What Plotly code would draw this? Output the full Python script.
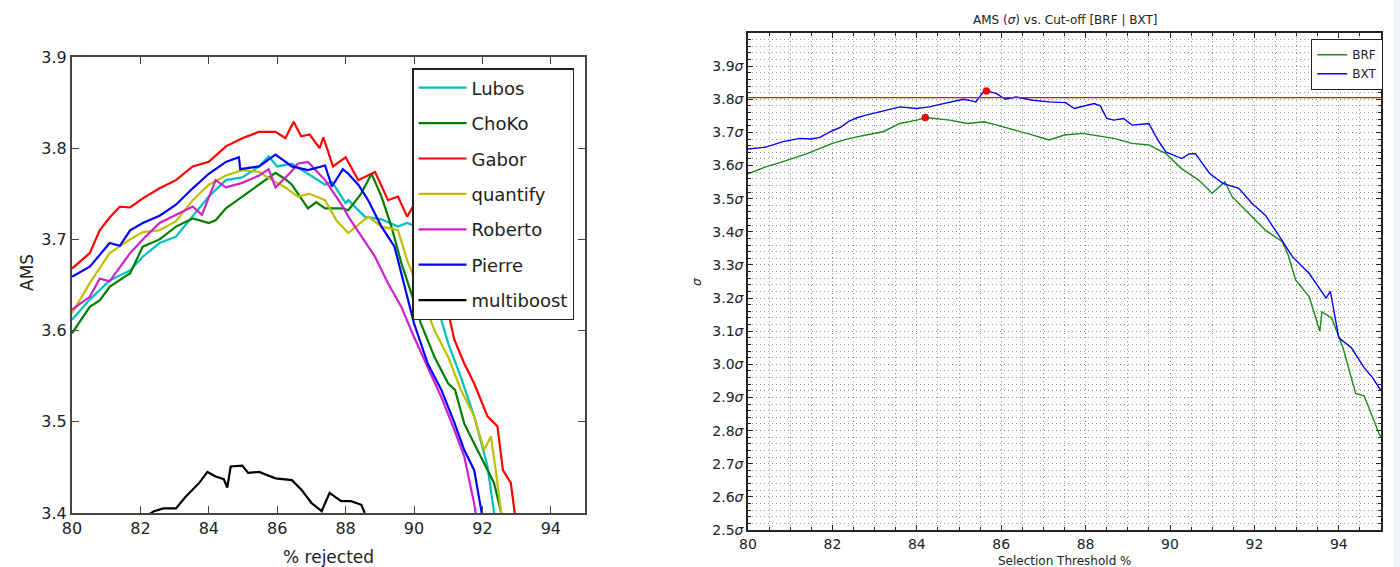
import plotly.graph_objects as go

W, H = 1400, 567

# ---------------- Left chart data: AMS vs % rejected ----------------
lubos_x = [80.0, 80.52, 81.1, 81.7, 82.07, 82.56, 83.04, 83.53, 84.0, 84.5, 84.98, 85.47, 85.75, 86.0, 86.43, 86.9, 87.4, 87.6, 88.0, 88.08, 88.56, 89.05, 89.53, 89.8, 90.0, 90.5, 91.0, 91.37, 91.76, 92.15, 92.34, 92.4]
lubos_y = [3.612, 3.634, 3.655, 3.666, 3.681, 3.696, 3.703, 3.725, 3.747, 3.765, 3.768, 3.780, 3.791, 3.780, 3.783, 3.772, 3.760, 3.763, 3.740, 3.743, 3.725, 3.722, 3.714, 3.718, 3.715, 3.650, 3.586, 3.549, 3.506, 3.451, 3.400, 3.385]

choko_x = [80.0, 80.52, 80.81, 81.1, 81.7, 82.07, 82.56, 83.04, 83.53, 84.0, 84.2, 84.5, 84.98, 85.47, 85.95, 86.24, 86.43, 86.9, 87.14, 87.4, 87.92, 88.08, 88.45, 88.76, 89.05, 89.34, 89.63, 89.92, 90.2, 90.6, 91.0, 91.2, 91.47, 91.95, 92.34, 92.55, 92.6]
choko_y = [3.597, 3.626, 3.633, 3.648, 3.663, 3.692, 3.700, 3.714, 3.723, 3.718, 3.721, 3.734, 3.747, 3.760, 3.773, 3.766, 3.760, 3.734, 3.741, 3.734, 3.734, 3.732, 3.750, 3.772, 3.747, 3.714, 3.674, 3.641, 3.608, 3.571, 3.542, 3.535, 3.498, 3.462, 3.433, 3.400, 3.385]

gabor_x = [80.0, 80.52, 80.81, 81.1, 81.4, 81.7, 82.07, 82.56, 83.04, 83.53, 84.0, 84.5, 84.98, 85.47, 85.95, 86.24, 86.48, 86.7, 86.95, 87.24, 87.35, 87.63, 88.0, 88.37, 88.86, 89.24, 89.53, 89.8, 90.0, 90.5, 91.0, 91.18, 91.47, 91.76, 92.15, 92.44, 92.6, 92.83, 92.93, 93.0]
gabor_y = [3.668, 3.685, 3.710, 3.724, 3.736, 3.735, 3.745, 3.756, 3.765, 3.780, 3.785, 3.802, 3.811, 3.818, 3.818, 3.811, 3.829, 3.813, 3.815, 3.800, 3.812, 3.780, 3.790, 3.765, 3.774, 3.743, 3.747, 3.725, 3.738, 3.680, 3.620, 3.590, 3.564, 3.542, 3.506, 3.495, 3.447, 3.433, 3.403, 3.385]

quantify_x = [80.0, 80.52, 81.1, 81.7, 82.07, 82.56, 83.04, 83.53, 84.0, 84.5, 84.98, 85.47, 85.85, 86.24, 86.6, 86.95, 87.4, 87.73, 88.08, 88.66, 89.05, 89.53, 89.8, 90.2, 90.6, 91.0, 91.37, 91.76, 92.05, 92.25, 92.4, 92.55, 92.6]
quantify_y = [3.619, 3.652, 3.685, 3.700, 3.708, 3.710, 3.720, 3.743, 3.760, 3.770, 3.776, 3.774, 3.765, 3.757, 3.747, 3.750, 3.743, 3.721, 3.707, 3.725, 3.714, 3.710, 3.677, 3.640, 3.600, 3.571, 3.535, 3.506, 3.469, 3.484, 3.444, 3.400, 3.385]

roberto_x = [80.0, 80.52, 80.81, 81.1, 81.7, 82.07, 82.56, 83.04, 83.53, 83.8, 84.0, 84.2, 84.5, 84.98, 85.47, 85.75, 85.95, 86.43, 86.6, 86.9, 87.4, 87.92, 88.08, 88.46, 88.86, 89.24, 89.63, 90.0, 90.4, 90.8, 91.18, 91.47, 91.76, 91.85]
roberto_y = [3.623, 3.637, 3.657, 3.654, 3.685, 3.700, 3.718, 3.727, 3.736, 3.727, 3.747, 3.765, 3.757, 3.762, 3.770, 3.777, 3.757, 3.775, 3.783, 3.785, 3.765, 3.736, 3.725, 3.703, 3.681, 3.652, 3.626, 3.593, 3.560, 3.527, 3.491, 3.462, 3.410, 3.390]

pierre_x = [80.0, 80.52, 81.1, 81.4, 81.7, 82.07, 82.56, 82.75, 83.04, 83.53, 84.0, 84.5, 84.88, 84.92, 85.47, 85.95, 86.43, 86.9, 87.4, 87.6, 87.92, 88.08, 88.37, 88.66, 89.05, 89.43, 89.8, 90.0, 90.4, 90.8, 91.18, 91.47, 91.76, 91.95, 92.05]
pierre_y = [3.659, 3.670, 3.696, 3.693, 3.710, 3.718, 3.726, 3.731, 3.738, 3.756, 3.772, 3.785, 3.790, 3.777, 3.780, 3.793, 3.780, 3.776, 3.781, 3.758, 3.777, 3.772, 3.760, 3.743, 3.714, 3.692, 3.637, 3.608, 3.564, 3.535, 3.499, 3.469, 3.447, 3.410, 3.385]

multiboost_x = [82.27, 82.4, 82.67, 83.04, 83.33, 83.72, 83.96, 84.2, 84.44, 84.54, 84.64, 84.98, 85.15, 85.47, 85.95, 86.43, 86.72, 87.0, 87.3, 87.53, 87.87, 88.16, 88.46, 88.56]
multiboost_y = [3.399, 3.402, 3.405, 3.405, 3.418, 3.433, 3.445, 3.440, 3.437, 3.428, 3.451, 3.452, 3.444, 3.445, 3.438, 3.436, 3.425, 3.411, 3.402, 3.422, 3.413, 3.413, 3.409, 3.400]

left_series = [
    ("Lubos", lubos_x, lubos_y, "#00bfbf"),
    ("ChoKo", choko_x, choko_y, "#008000"),
    ("Gabor", gabor_x, gabor_y, "#ff0000"),
    ("quantify", quantify_x, quantify_y, "#bfbf00"),
    ("Roberto", roberto_x, roberto_y, "#cc22cc"),
    ("Pierre", pierre_x, pierre_y, "#0000ff"),
    ("multiboost", multiboost_x, multiboost_y, "#000000"),
]
left_xticks = [80, 82, 84, 86, 88, 90, 92, 94]
left_yticks = [3.4, 3.5, 3.6, 3.7, 3.8, 3.9]

# ---------------- Right chart data: AMS (sigma) vs selection threshold ----------------
brf_x = [80.0, 80.4, 80.83, 81.4, 82.0, 82.41, 82.8, 83.2, 83.6, 84.0, 84.2, 84.5, 84.78, 85.2, 85.6, 85.9, 86.35, 86.75, 87.14, 87.5, 87.92, 88.3, 88.67, 89.1, 89.5, 89.9, 90.28, 90.68, 91.0, 91.3, 91.47, 91.87, 92.26, 92.66, 92.8, 92.98, 93.3, 93.55, 93.6, 93.83, 94.1, 94.4, 94.6, 94.95, 95.0]
brf_y = [3.575, 3.595, 3.612, 3.636, 3.667, 3.682, 3.692, 3.702, 3.727, 3.737, 3.745, 3.742, 3.737, 3.727, 3.732, 3.722, 3.707, 3.692, 3.677, 3.692, 3.697, 3.690, 3.682, 3.667, 3.662, 3.636, 3.590, 3.556, 3.516, 3.551, 3.506, 3.455, 3.405, 3.370, 3.330, 3.254, 3.204, 3.100, 3.158, 3.140, 3.050, 2.912, 2.905, 2.792, 2.780]

bxt_x = [80.0, 80.4, 80.83, 81.23, 81.5, 81.7, 82.0, 82.2, 82.41, 82.6, 82.8, 83.2, 83.6, 84.0, 84.3, 84.5, 84.78, 85.1, 85.3, 85.4, 85.57, 85.65, 85.88, 86.1, 86.35, 86.75, 87.14, 87.53, 87.73, 87.92, 88.2, 88.35, 88.5, 88.67, 88.9, 89.1, 89.5, 89.7, 89.9, 90.28, 90.45, 90.6, 90.94, 91.25, 91.63, 91.94, 92.26, 92.6, 92.9, 93.3, 93.7, 93.8, 94.0, 94.3, 94.6, 94.8, 94.95, 95.0]
bxt_y = [3.650, 3.655, 3.672, 3.682, 3.680, 3.685, 3.705, 3.716, 3.735, 3.745, 3.752, 3.765, 3.777, 3.772, 3.777, 3.783, 3.792, 3.800, 3.795, 3.792, 3.822, 3.825, 3.818, 3.800, 3.807, 3.797, 3.792, 3.790, 3.772, 3.778, 3.787, 3.780, 3.742, 3.737, 3.742, 3.722, 3.727, 3.680, 3.641, 3.621, 3.635, 3.636, 3.576, 3.546, 3.531, 3.486, 3.450, 3.385, 3.325, 3.274, 3.200, 3.220, 3.080, 3.050, 2.990, 2.960, 2.932, 2.920]

threshold_sigma = 3.805
best_x = [85.65, 84.2]
best_y = [3.825, 3.745]

right_xticks = [80, 82, 84, 86, 88, 90, 92, 94]
right_yticks = [2.5, 2.6, 2.7, 2.8, 2.9, 3.0, 3.1, 3.2, 3.3, 3.4, 3.5, 3.6, 3.7, 3.8, 3.9]
right_yticktext = [f"{v:.1f}<i>σ</i>" for v in right_yticks]


def px(x):
    return x / W


def py(y):
    return 1 - y / H


FONT = "DejaVu Sans"
fig = go.Figure()

for i, (name, xs, ys, col) in enumerate(left_series):
    fig.add_trace(go.Scatter(
        x=xs, y=ys, mode="lines", name=name,
        line=dict(color=col, width=2.2),
        xaxis="x", yaxis="y", legend="legend", legendgroup=f"g{i}",
    ))

fig.add_trace(go.Scatter(
    x=brf_x, y=brf_y, mode="lines", name="BRF",
    line=dict(color="#1a8a1a", width=1.4),
    xaxis="x2", yaxis="y2", legend="legend2",
))
fig.add_trace(go.Scatter(
    x=bxt_x, y=bxt_y, mode="lines", name="BXT",
    line=dict(color="#0000ff", width=1.4),
    xaxis="x2", yaxis="y2", legend="legend2",
))
fig.add_trace(go.Scatter(
    x=[80, 95], y=[threshold_sigma, threshold_sigma], mode="lines",
    line=dict(color="#ff0000", width=1.4), showlegend=False,
    xaxis="x2", yaxis="y2",
))
fig.add_trace(go.Scatter(
    x=best_x, y=best_y, mode="markers",
    marker=dict(color="#ff0000", size=7, line=dict(color="#aa0000", width=0.5)),
    showlegend=False, xaxis="x2", yaxis="y2",
))

grid_dash = "1px,3px"

fig.update_layout(
    width=W, height=H,
    margin=dict(l=0, r=0, t=0, b=0),
    paper_bgcolor="white", plot_bgcolor="white",
    font=dict(family=FONT, color="#222222"),
    xaxis=dict(
        domain=[px(72), px(585)], range=[80, 95], anchor="y",
        tickvals=left_xticks, ticks="inside", ticklen=7, tickcolor="#444",
        showline=True, linecolor="#444", linewidth=2, mirror="ticks",
        showgrid=False, zeroline=False, tickfont=dict(size=16, family=FONT),
        automargin=False,
    ),
    yaxis=dict(
        domain=[py(513), py(57)], range=[3.4, 3.9], anchor="x",
        tickvals=left_yticks, ticktext=[f"{v:.1f}" for v in left_yticks],
        ticks="inside", ticklen=7, tickcolor="#444",
        showline=True, linecolor="#444", linewidth=2, mirror="ticks",
        showgrid=False, zeroline=False, tickfont=dict(size=16, family=FONT),
        automargin=False,
    ),
    xaxis2=dict(
        domain=[px(748), px(1381)], range=[80, 95], anchor="y2",
        tickvals=right_xticks, ticks="inside", ticklen=5, tickcolor="#222",
        showline=True, linecolor="#222", linewidth=1.5, mirror="ticks",
        showgrid=True, gridcolor="#888", griddash=grid_dash, gridwidth=1,
        minor=dict(dtick=0.5, showgrid=True, gridcolor="#999", griddash=grid_dash,
                   ticks="inside", ticklen=3, tickcolor="#222"),
        zeroline=False, tickfont=dict(size=14, family=FONT),
        automargin=False,
    ),
    yaxis2=dict(
        domain=[py(530), py(33)], range=[2.5, 4.0], anchor="x2",
        tickvals=right_yticks, ticktext=right_yticktext,
        ticks="inside", ticklen=5, tickcolor="#222",
        showline=True, linecolor="#222", linewidth=1.5, mirror="ticks",
        showgrid=True, gridcolor="#888", griddash=grid_dash, gridwidth=1,
        minor=dict(dtick=0.02, tick0=2.5, showgrid=True, gridcolor="#999", griddash=grid_dash,
                   ticks="inside", ticklen=3, tickcolor="#222"),
        zeroline=False, tickfont=dict(size=14, family=FONT),
        automargin=False,
    ),
    legend=dict(
        x=px(412), y=py(68), xanchor="left", yanchor="top",
        bgcolor="white", bordercolor="#222", borderwidth=1.5,
        font=dict(size=18, family=FONT, color="#222"),
        traceorder="grouped", tracegroupgap=9, itemwidth=48,
    ),
    legend2=dict(
        x=px(1383), y=py(39), xanchor="right", yanchor="top",
        bgcolor="white", bordercolor="#222", borderwidth=1.2,
        font=dict(size=12, family=FONT, color="#222"),
    ),
    shapes=[dict(type="rect", xref="paper", yref="paper", x0=px(1394), x1=1, y0=0, y1=1,
                 fillcolor="#eef4fb", line=dict(width=0), layer="below")],
    annotations=[
        dict(text="AMS", x=px(27), y=py(273), xref="paper", yref="paper", textangle=-90,
             xanchor="center", yanchor="middle",
             showarrow=False, font=dict(size=17, family=FONT, color="#222")),
        dict(text="% rejected", x=px(328), y=py(557), xref="paper", yref="paper",
             xanchor="center", yanchor="middle",
             showarrow=False, font=dict(size=17, family=FONT, color="#222")),
        dict(text="AMS (<i>σ</i>) vs. Cut-off [BRF | BXT]", x=px(1065), y=py(20),
             xref="paper", yref="paper", showarrow=False, xanchor="center", yanchor="middle",
             font=dict(size=12, family=FONT, color="#222")),
        dict(text="Selection Threshold %", x=px(1064), y=py(561), xref="paper", yref="paper",
             showarrow=False, xanchor="center", yanchor="middle",
             font=dict(size=12, family=FONT, color="#222")),
        dict(text="<i>σ</i>", x=px(697), y=py(282), xref="paper", yref="paper", textangle=-90,
             xanchor="center", yanchor="middle",
             showarrow=False, font=dict(size=12, family=FONT, color="#222")),
    ],
)

fig.write_html("out.html", config={"displayModeBar": False},
               post_script="document.body.style.margin='0';")
